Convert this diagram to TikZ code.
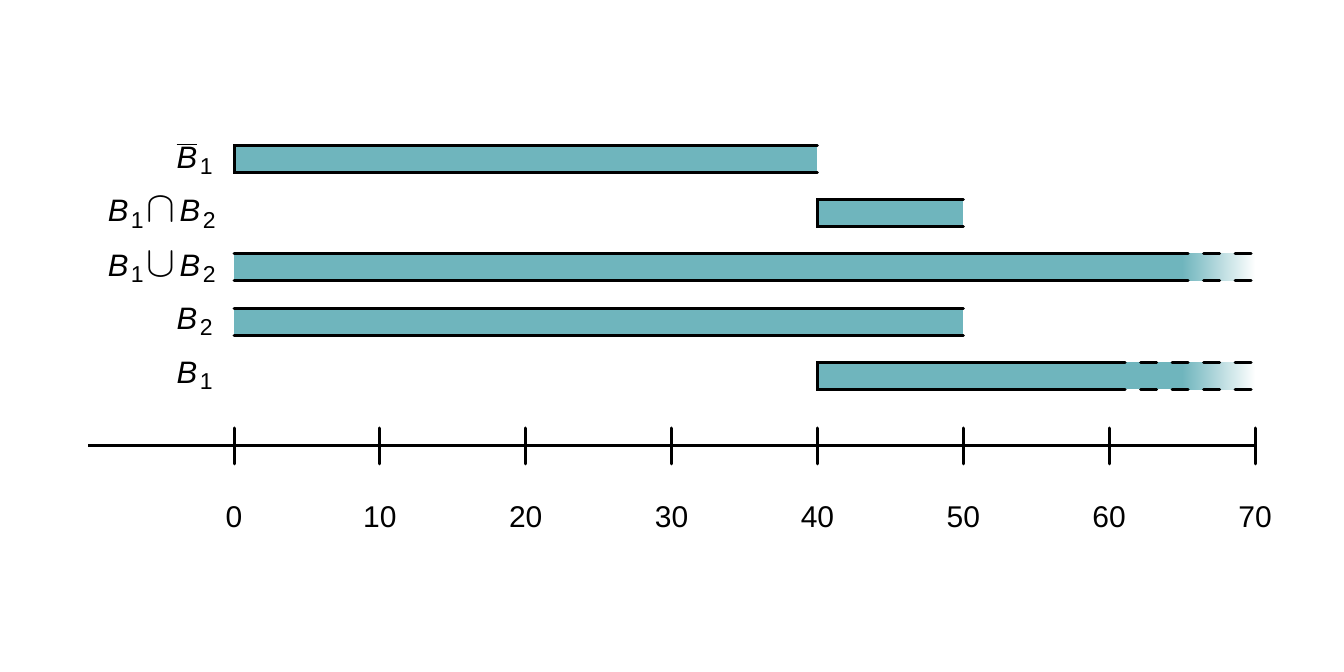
\documentclass[tikz,border=0pt]{standalone}
\usepackage{fontspec}
\setmainfont{Liberation Sans}
\usepackage{graphicx}
\definecolor{barfill}{RGB}{111,181,189}
\newcommand\ux[1]{{234+(#1)*14.586}}
\newcommand\sub[1]{\kern1.2pt\raisebox{-0.4ex}{\fontsize{11.5}{12}\selectfont #1}}
\newcommand\lab[2]{\textit{B}\sub{#1}#2}
\begin{document}
\begin{tikzpicture}[x=0.5pt,y=-0.5pt,
  barline/.style={line width=1.5pt,line cap=round,line join=miter},
  dashline/.style={line width=1.5pt,line cap=round,dash pattern=on 8pt off 7.75pt},
  axisline/.style={line width=1.5pt},
  tickline/.style={line width=1.5pt,line cap=round},
  lbl/.style={anchor=east,inner sep=0pt,font=\fontsize{15.5}{18}\selectfont},
  ticklbl/.style={inner sep=0pt,font=\fontsize{15}{18}\selectfont}]
\useasboundingbox (0,0) rectangle (1344,672);
% labels
\node[lbl] (l1) at (213,159) {$\overline{\hbox{\textit{B}}}$\sub{1}};
\node[lbl] (l2) at (216,213.25) {\lab{1}{\kern1.6pt\scalebox{1.5}{$\cap$}\kern2pt}\lab{2}{}};
\node[lbl] (l3) at (216,267.5) {\lab{1}{\kern1.6pt\scalebox{1.5}{$\cup$}\kern2pt}\lab{2}{}};
\node[lbl] (l4) at (213,321.75) {\lab{2}{}};
\node[lbl] (l5) at (213,376) {\lab{1}{}};
% bar Bbar1: [0,40)
\fill[barfill] (\ux{0},145.5) rectangle (\ux{40},172.5);
\draw[barline] (\ux{40},145.5) -- (\ux{0},145.5) -- (\ux{0},172.5) -- (\ux{40},172.5);
% bar B1 cap B2: [40,50)
\fill[barfill] (\ux{40},199.75) rectangle (\ux{50},226.75);
\draw[barline] (\ux{50},199.75) -- (\ux{40},199.75) -- (\ux{40},226.75) -- (\ux{50},226.75);
% bar B1 cup B2: (0,inf)
\fill[barfill] (\ux{0},254) rectangle (\ux{65},281);
\shade[left color=barfill,right color=white] (\ux{65},254) rectangle (\ux{70},281);
\draw[barline] (\ux{0},254) -- (\ux{65},254);
\draw[barline] (\ux{0},281) -- (\ux{65},281);
\draw[dashline] (\ux{60},254) -- (\ux{70},254);
\draw[dashline] (\ux{60},281) -- (\ux{70},281);
% bar B2: (0,50)
\fill[barfill] (\ux{0},308.25) rectangle (\ux{50},335.25);
\draw[barline] (\ux{0},308.25) -- (\ux{50},308.25);
\draw[barline] (\ux{0},335.25) -- (\ux{50},335.25);
% bar B1: [40,inf)
\fill[barfill] (\ux{40},362.5) rectangle (\ux{65},389.5);
\shade[left color=barfill,right color=white] (\ux{65},362.5) rectangle (\ux{70},389.5);
\draw[barline] (\ux{60},362.5) -- (\ux{40},362.5) -- (\ux{40},389.5) -- (\ux{60},389.5);
\draw[dashline] (\ux{60},362.5) -- (\ux{70},362.5);
\draw[dashline] (\ux{60},389.5) -- (\ux{70},389.5);
% axis
\coordinate (axL) at (88,446);
\coordinate (axR) at (\ux{70},446);
\draw[axisline] (axL) -- (axR);
\foreach \v in {0,10,...,70}{
  \coordinate (t\v) at (\ux{\v},446);
  \draw[tickline] ([yshift=9pt]t\v) -- ([yshift=-9pt]t\v);
  \node[ticklbl] (n\v) at (\ux{\v},517) {\v};
}
\end{tikzpicture}
\end{document}
